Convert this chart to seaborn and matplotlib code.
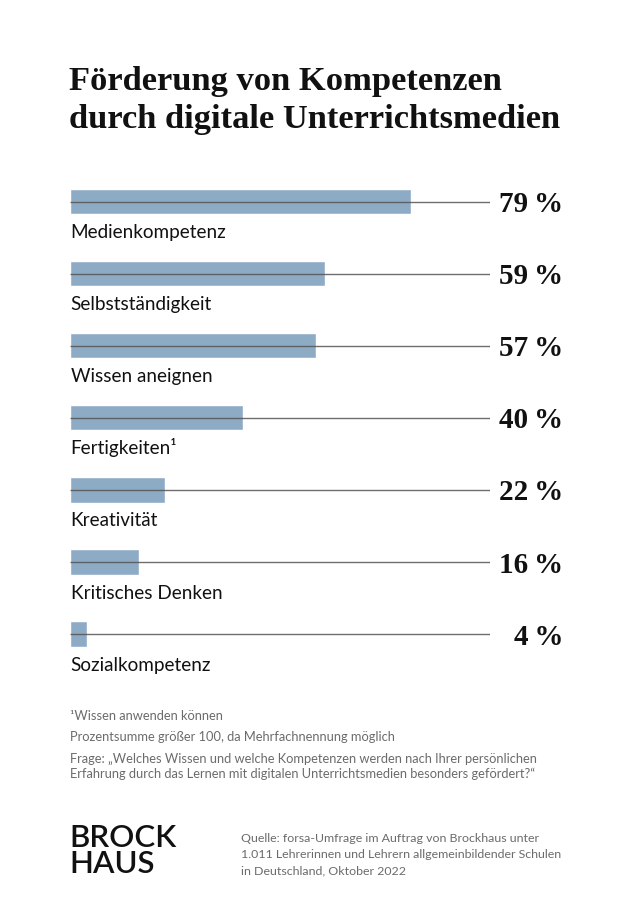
import matplotlib
matplotlib.use("Agg")
import matplotlib.pyplot as plt
import seaborn as sns
import pandas as pd

categories = ["Medienkompetenz", "Selbstständigkeit", "Wissen aneignen", "Fertigkeiten¹",
              "Kreativität", "Kritisches Denken", "Sozialkompetenz"]
values = [79, 59, 57, 40, 22, 16, 4]

title_lines = ["Förderung von Kompetenzen", "durch digitale Unterrichtsmedien"]
notes = ["¹Wissen anwenden können",
         "Prozentsumme größer 100, da Mehrfachnennung möglich",
         "Frage: „Welches Wissen und welche Kompetenzen werden nach Ihrer persönlichen",
         "Erfahrung durch das Lernen mit digitalen Unterrichtsmedien besonders gefördert?“"]
source_lines = ["Quelle: forsa-Umfrage im Auftrag von Brockhaus unter",
                "1.011 Lehrerinnen und Lehrern allgemeinbildender Schulen",
                "in Deutschland, Oktober 2022"]
logo_lines = ["BROCK", "HAUS"]

sns.set_theme(style="white")
plt.rcParams['font.family'] = ['Lato', 'DejaVu Sans']

W, H = 636, 922
fig = plt.figure(figsize=(W / 100, H / 100), dpi=100)
fig.patch.set_facecolor("white")


def fy(px):
    return 1 - px / H


px_per_unit = 4.316
x0 = 70
line_end = 490
top_px, bot_px = 165, 670
c0, step = 201.5, 72.1
ax = fig.add_axes([x0 / W, 1 - bot_px / H, (line_end - x0) / W, (bot_px - top_px) / H])

df = pd.DataFrame({"cat": categories, "val": values})
sns.barplot(data=df, x="val", y="cat", orient="h", color="#8eabc6", saturation=1,
            width=0.35, ax=ax, zorder=2)
xmax = (line_end - x0) / px_per_unit
ax.set_ylim((bot_px - c0) / step, (top_px - c0) / step)
ax.set_xlim(0, xmax)

for i in range(len(categories)):
    ax.plot([0, xmax], [i, i], color="#555555", lw=1.0, alpha=0.85, zorder=3,
            solid_capstyle="butt")
    ax.text(0.15, i + 36.5 / step, categories[i], ha="left", va="baseline", fontsize=13.6,
            color="#111111", family=["Lato", "DejaVu Sans"])
    ax.text((563 - x0) / px_per_unit, i + 10.5 / step, f"{values[i]}\u2009%", ha="right",
            va="baseline", fontsize=21, fontweight="bold", color="#111111",
            family=["Liberation Serif", "DejaVu Serif"], clip_on=False)

ax.set_xlabel("")
ax.set_ylabel("")
ax.set_xticks([])
ax.set_yticks([])
sns.despine(ax=ax, left=True, bottom=True)
ax.set_facecolor("none")

for txt, by in zip(title_lines, [90, 128]):
    fig.text(69 / W, fy(by), txt, ha="left", va="baseline", fontsize=24.8, fontweight="bold",
             family="Liberation Serif", color="#111111")

grey = "#6b6b6b"
for txt, by in zip(notes, [720, 741, 763, 778]):
    fig.text(70 / W, fy(by), txt, ha="left", va="baseline", fontsize=9.3, color=grey)

for txt, by in zip(logo_lines, [847, 873]):
    fig.text(69 / W, fy(by), txt, ha="left", va="baseline", fontsize=22.5,
             fontweight="semibold", color="#111111")

for txt, by in zip(source_lines, [842, 858, 874]):
    fig.text(241 / W, fy(by), txt, ha="left", va="baseline", fontsize=8.9, color=grey)

fig.savefig("out.png", dpi=100, facecolor="white")
